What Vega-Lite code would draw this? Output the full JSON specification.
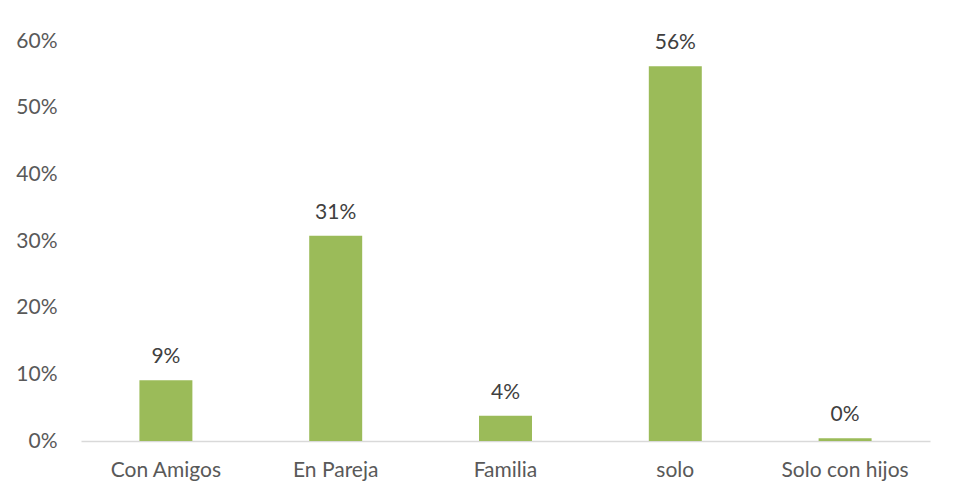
{
  "$schema": "https://vega.github.io/schema/vega-lite/v6.json",
  "width": 849,
  "height": 400,
  "autosize": {"type": "none"},
  "padding": {"left": 81, "top": 41, "right": 29, "bottom": 41},
  "background": "white",
  "config": {
    "view": {"stroke": null},
    "font": "Lato",
    "axis": {"labelFont": "Lato", "labelColor": "#595959", "labelFontSize": 21}
  },
  "data": {
    "values": [
      {"categoria": "Con Amigos", "porcentaje": 0.091},
      {"categoria": "En Pareja", "porcentaje": 0.308},
      {"categoria": "Familia", "porcentaje": 0.038},
      {"categoria": "solo", "porcentaje": 0.562},
      {"categoria": "Solo con hijos", "porcentaje": 0.004}
    ]
  },
  "encoding": {
    "x": {
      "field": "categoria",
      "type": "nominal",
      "sort": null,
      "scale": {"paddingInner": 0.688, "paddingOuter": 0.344},
      "axis": {
        "title": null,
        "labelAngle": 0,
        "ticks": false,
        "domainColor": "#D9D9D9",
        "domainWidth": 1.5,
        "labelPadding": 18
      }
    },
    "y": {
      "field": "porcentaje",
      "type": "quantitative",
      "scale": {"domain": [0, 0.6], "nice": false},
      "axis": {
        "title": null,
        "format": ".0%",
        "values": [0, 0.1, 0.2, 0.3, 0.4, 0.5, 0.6],
        "grid": false,
        "domain": false,
        "ticks": false,
        "labelPadding": 24
      }
    }
  },
  "layer": [
    {"mark": {"type": "bar", "color": "#9BBB59"}},
    {
      "mark": {"type": "text", "baseline": "alphabetic", "dy": -17, "fontSize": 21, "color": "#404040"},
      "encoding": {"text": {"field": "porcentaje", "type": "quantitative", "format": ".0%"}}
    }
  ]
}
